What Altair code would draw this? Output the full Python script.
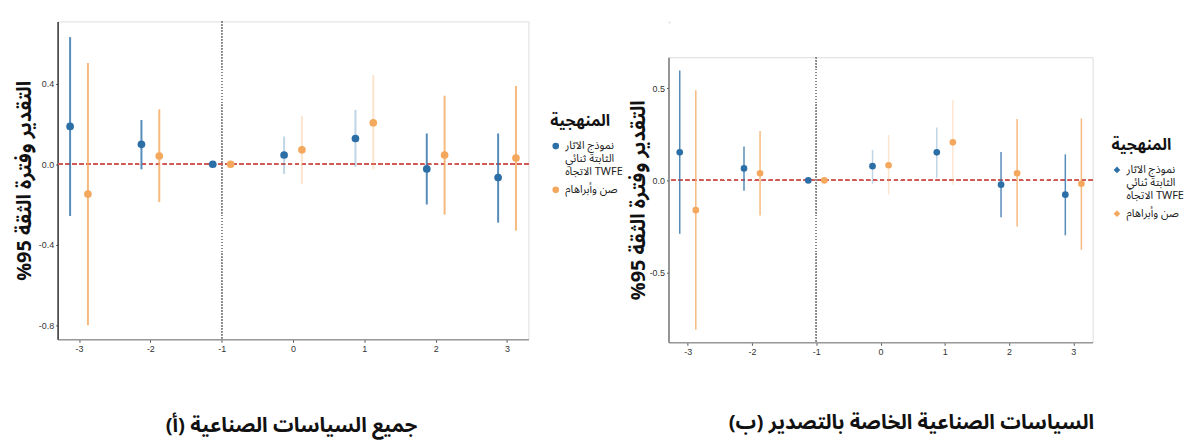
import altair as alt
import pandas as pd

periods = [-3, -2, -1, 0, 1, 2, 3]
methods = ["نموذج الآثار الثابتة ثنائي الاتجاه TWFE", "صن وأبراهام"]

# Panel (a): all industrial policies
a_twfe_est = [0.188, 0.099, 0.0, 0.046, 0.128, -0.023, -0.066]
a_twfe_lo = [-0.257, -0.025, 0.0, -0.048, -0.013, -0.200, -0.290]
a_twfe_hi = [0.632, 0.220, 0.0, 0.138, 0.270, 0.153, 0.153]
a_sa_est = [-0.148, 0.041, 0.0, 0.072, 0.206, 0.046, 0.031]
a_sa_lo = [-0.800, -0.188, 0.0, -0.099, -0.026, -0.250, -0.330]
a_sa_hi = [0.504, 0.273, 0.0, 0.240, 0.443, 0.341, 0.389]

# Panel (b): export-specific industrial policies
b_twfe_est = [0.152, 0.065, 0.0, 0.077, 0.152, -0.023, -0.077]
b_twfe_lo = [-0.289, -0.056, 0.0, -0.018, 0.013, -0.199, -0.297]
b_twfe_hi = [0.595, 0.183, 0.0, 0.165, 0.287, 0.154, 0.141]
b_sa_est = [-0.161, 0.039, 0.0, 0.082, 0.206, 0.039, -0.018]
b_sa_lo = [-0.808, -0.190, 0.0, -0.077, -0.023, -0.249, -0.375]
b_sa_hi = [0.488, 0.267, 0.0, 0.246, 0.434, 0.332, 0.335]

y_title = "\u202bالتقدير وفترة الثقة 95%\u202c"
title_a = "\u202bجميع السياسات الصناعية (أ)\u202c"
title_b = "\u202bالسياسات الصناعية الخاصة بالتصدير (ب)\u202c"
legend_title = "المنهجية"

BLUE = "#2c6fa7"
ORANGE = "#f4a85e"
AR_FONT = "Noto Sans Arabic, Noto Kufi Arabic, DejaVu Sans"
NUM_FONT = "Liberation Sans"


def make_df(t_est, t_lo, t_hi, s_est, s_lo, s_hi):
    rows = []
    for i, p in enumerate(periods):
        rows.append(dict(period=p, method=methods[0], est=t_est[i], lo=t_lo[i], hi=t_hi[i], k=0))
        rows.append(dict(period=p, method=methods[1], est=s_est[i], lo=s_lo[i], hi=s_hi[i], k=1))
    return pd.DataFrame(rows)


def panel(df, ydom, yticks, w, h, xtitle, title_x, title_y, leg_x, leg_y, sym,
          pt_size, ci_w, ydomain_color, ytitle_pad):
    base = alt.Chart(df).transform_calculate(
        xd="datum.period + (datum.k == 0 ? -0.125 : 0.125)"
    )
    xsc = alt.Scale(domain=[-3.3, 3.3], nice=False, zero=False)
    ysc = alt.Scale(domain=ydom, nice=False, zero=False)
    color = alt.Color(
        "method:N",
        scale=alt.Scale(domain=methods, range=[BLUE, ORANGE]),
        legend=alt.Legend(
            title=legend_title,
            orient="none",
            legendX=leg_x,
            legendY=leg_y,
            titleFont=AR_FONT,
            titleFontSize=16,
            titleFontWeight="bold",
            titleColor="#111",
            titlePadding=12,
            labelFont=AR_FONT,
            labelFontSize=11,
            labelColor="#222",
            labelExpr="datum.label == '" + methods[0] + "' ? ['نموذج الآثار', 'الثابتة ثنائي', 'الاتجاه TWFE'] : datum.label",
            symbolType=sym,
            symbolSize=45,
            symbolOpacity=1,
            symbolStrokeWidth=0,
            rowPadding=6,
        ),
    )
    xax = alt.Axis(
        values=periods,
        labelExpr="'' + datum.value",
        grid=False,
        title=xtitle,
        titleFont=AR_FONT,
        titleFontSize=20.5,
        titleFontWeight="bold",
        titleColor="#111",
        titleX=title_x,
        titleY=title_y,
        titleBaseline="middle",
        titleAlign="center",
        labelFont=NUM_FONT,
        labelFontSize=9,
        labelColor="#333",
        tickSize=3,
        tickColor="#555",
        domainColor="#999",
        domainWidth=1.5,
    )
    yax = alt.Axis(
        values=yticks,
        labelExpr="replace(format(datum.value, '.1f'), '\u2212', '-')",
        title=y_title,
        titleFont=AR_FONT,
        titleFontSize=20,
        titleFontWeight="bold",
        titleColor="#111",
        titlePadding=ytitle_pad,
        labelFont=NUM_FONT,
        labelFontSize=9,
        labelColor="#333",
        tickSize=2,
        tickColor="#555",
        domainColor=ydomain_color,
        domainWidth=1.5,
        gridColor="#c8c8c8",
        gridDash=[1, 2],
        gridWidth=1,
    )
    ci = base.mark_rule(strokeWidth=ci_w).encode(
        x=alt.X("xd:Q", scale=xsc, axis=xax),
        y=alt.Y("lo:Q", scale=ysc, axis=yax),
        y2="hi:Q",
        color=color,
        opacity=alt.condition("datum.period == 0 || datum.period == 1", alt.value(0.3), alt.value(0.8)),
    )
    pts = base.mark_point(filled=True, opacity=1, size=pt_size, shape="circle").encode(
        x="xd:Q", y="est:Q", color=color
    )
    zero = alt.Chart(df).mark_rule(color="#cf5a56", strokeDash=[4, 3], strokeWidth=1.3).encode(
        y=alt.datum(0)
    )
    vline = alt.Chart(df).mark_rule(color="#888", strokeDash=[1, 2], strokeWidth=1.2).encode(
        x=alt.datum(-1)
    )
    return alt.layer(vline, zero, ci, pts).properties(width=w, height=h)


df_a = make_df(a_twfe_est, a_twfe_lo, a_twfe_hi, a_sa_est, a_sa_lo, a_sa_hi)
df_b = make_df(b_twfe_est, b_twfe_lo, b_twfe_hi, b_sa_est, b_sa_lo, b_sa_hi)

left = panel(df_a, [-0.87, 0.71], [-0.8, -0.4, 0.0, 0.4], 474, 320, title_a,
             235, 87, 496, 92, "circle", 60, 2, "#333", 4)
right = panel(df_b, [-0.876, 0.667], [-0.5, 0.0, 0.5], 427, 287, title_b,
              244, 81, 446, 80, "diamond", 45, 1.5, "#777", 1)

spacer = alt.Chart(pd.DataFrame({"a": [0]})).mark_point(opacity=0).encode(
    x=alt.X("a:Q", axis=None), y=alt.Y("a:Q", axis=None)
).properties(width=1, height=1)

right_col = alt.vconcat(spacer, right, spacing=30).resolve_scale(
    x="independent", y="independent", color="independent"
)

chart = alt.hconcat(left, right_col, spacing=2).resolve_scale(
    color="independent", x="independent", y="independent"
).properties(
    padding={"left": 13, "top": 17, "right": 0, "bottom": 30}
).configure_view(stroke="transparent", strokeWidth=0).configure(background="white")

chart.save("out.html", embed_options={"renderer": "svg", "actions": False})
